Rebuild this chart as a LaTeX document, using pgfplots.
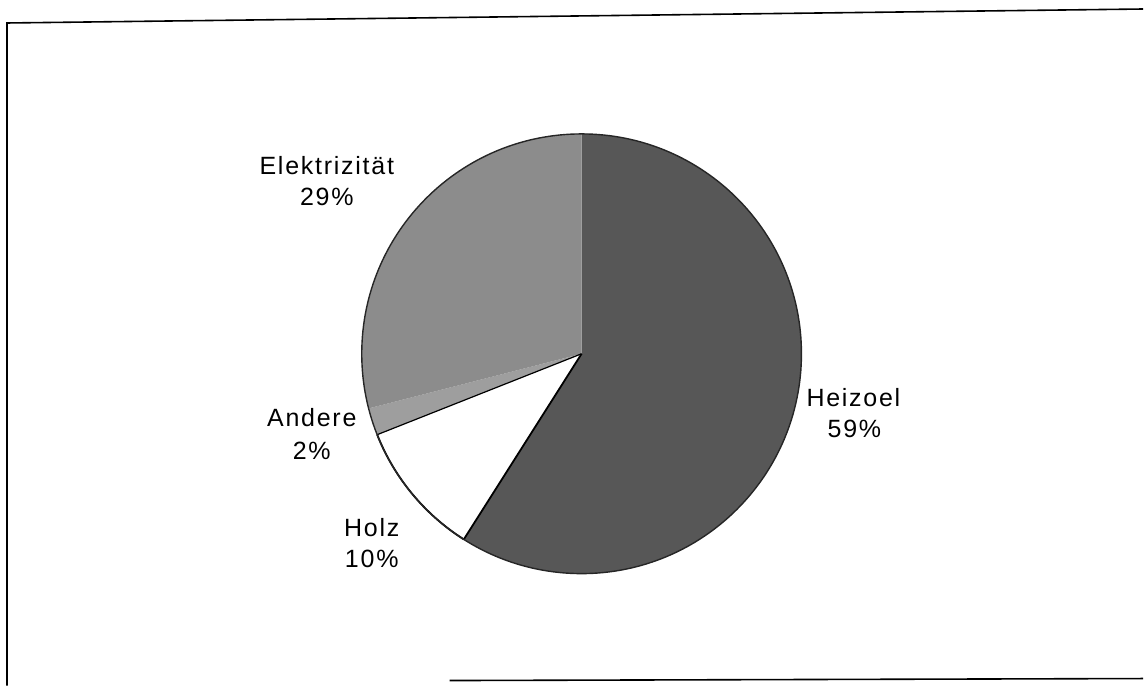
\documentclass[border=0pt]{standalone}
\usepackage{fontspec}
\setmainfont{Liberation Sans}[LetterSpace=7]
\usepackage{pgfplots}
\usepackage{pgfplotstable}
\pgfplotsset{compat=1.18}
\pgfplotstableread{
label value
Heizoel 59
Holz 10
Andere 2
Elektrizitaet 29
}\piedata
\tikzset{lbl/.style={font=\fontsize{12.5}{15}\selectfont, inner sep=0pt, anchor=base}}
\begin{document}
\begin{tikzpicture}
\pgfplotstablegetelem{0}{value}\of\piedata \pgfmathsetmacro\vA{\pgfplotsretval}
\pgfplotstablegetelem{1}{value}\of\piedata \pgfmathsetmacro\vB{\pgfplotsretval}
\pgfplotstablegetelem{2}{value}\of\piedata \pgfmathsetmacro\vC{\pgfplotsretval}
\pgfplotstablegetelem{3}{value}\of\piedata \pgfmathsetmacro\vD{\pgfplotsretval}
\pgfmathsetmacro\aA{90}
\pgfmathsetmacro\aB{\aA-3.6*\vA}
\pgfmathsetmacro\aC{\aB-3.6*\vB}
\pgfmathsetmacro\aD{\aC-3.6*\vC}
\pgfmathsetmacro\aE{\aD-3.6*\vD}
\begin{axis}[
  x=0.5pt, y=0.5pt,
  xmin=0, xmax=1144, ymin=0, ymax=686,
  y dir=reverse,
  hide axis, clip=false,
]
\addplot[draw=none, forget plot] coordinates {(0,0) (1144,686)};
% frame
\addplot[black, line width=0.8pt] coordinates {(7,686) (7,23) (1144,9)};
\addplot[black, line width=0.8pt] coordinates {(450,681) (1144,679)};
% slices
\fill[black!66] (axis cs:582,354) -- ++(\aA:110pt) arc[start angle=\aA, end angle=\aB, radius=110pt] -- cycle;
\fill[white] (axis cs:582,354) -- ++(\aB:110pt) arc[start angle=\aB, end angle=\aC, radius=110pt] -- cycle;
\fill[black!38] (axis cs:582,354) -- ++(\aC:110pt) arc[start angle=\aC, end angle=\aD, radius=110pt] -- cycle;
\fill[black!45] (axis cs:582,354) -- ++(\aD:110pt) arc[start angle=\aD, end angle=\aE, radius=110pt] -- cycle;
\draw[black, line width=0.9pt] (axis cs:582,354) -- ++(\aB:110pt);
\draw[black, line width=0.6pt] (axis cs:582,354) -- ++(\aC:110pt);
\draw[black, line width=0.9pt] (axis cs:582,354) ++(\aB:110pt) arc[start angle=\aB, end angle=\aC, radius=110pt];
\draw[black!85, line width=0.7pt] (axis cs:582,354) circle[radius=110pt];
% labels
\node[lbl] at (axis cs:327,175) {Elektrizität};
\node[lbl] at (axis cs:327,206) {29\%};
\node[lbl] at (axis cs:854,407) {Heizoel};
\node[lbl] at (axis cs:855,438) {59\%};
\node[lbl] at (axis cs:312,427) {Andere};
\node[lbl] at (axis cs:312,460) {2\%};
\node[lbl] at (axis cs:372,537) {Holz};
\node[lbl] at (axis cs:372,568) {10\%};
\end{axis}
\end{tikzpicture}
\end{document}
